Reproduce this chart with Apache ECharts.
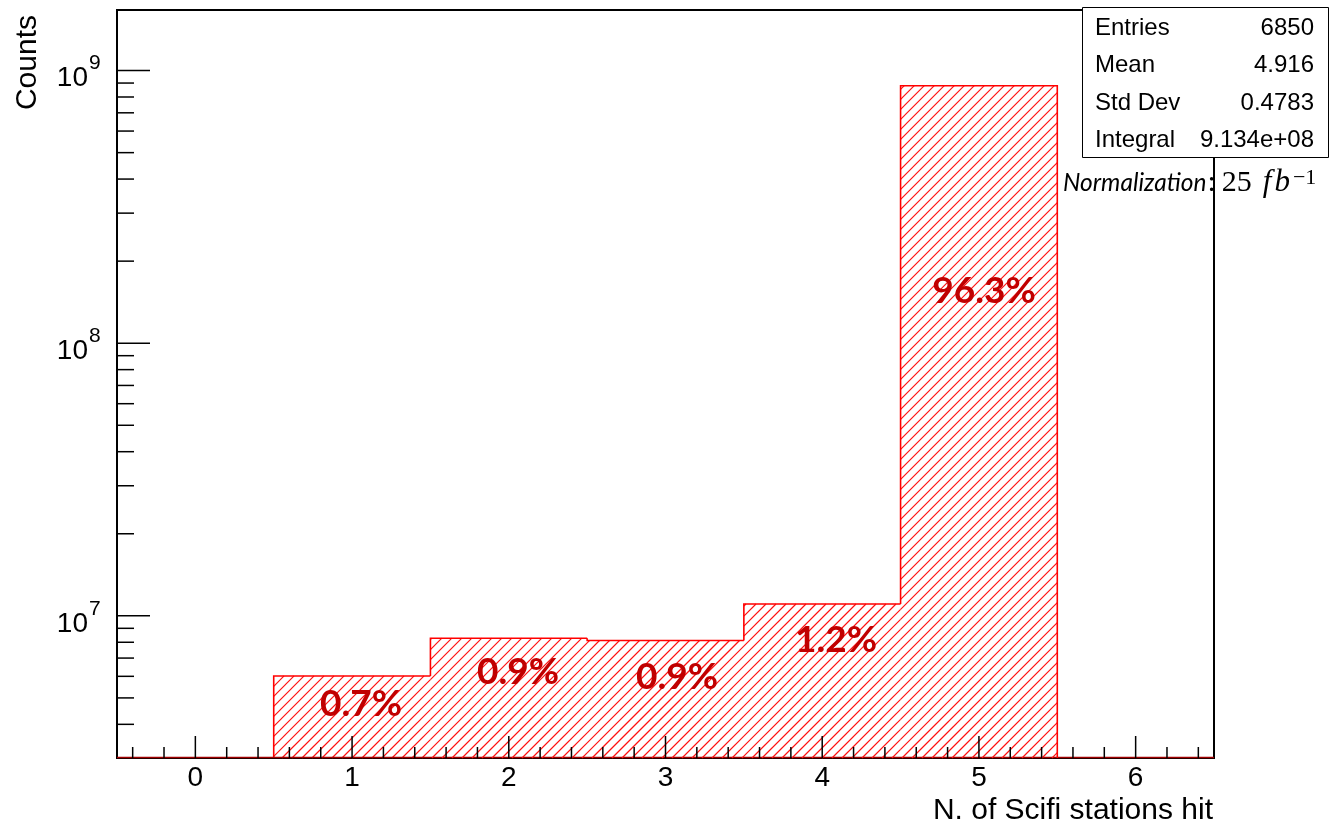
<!DOCTYPE html>
<html>
<head>
<meta charset="utf-8">
<script src="https://cdn.jsdelivr.net/npm/echarts@6/dist/echarts.min.js"></script>
<style>
  html, body { margin: 0; padding: 0; background: #fff; }
  #chart { width: 1337px; height: 828px; }
</style>
</head>
<body>
<div id="chart"></div>
<script>
// Histogram bins: number of SciFi stations hit
const binCenters = [1, 2, 3, 4, 5];
const binCounts = [6.02e6, 8.28e6, 8.12e6, 1.105e7, 8.80e8];
const percentLabels = ['0.7%', '0.9%', '0.9%', '1.2%', '96.3%'];
// Anchor of each percentage label, in axis units (x, counts)
const percentLabelX = [1.057, 2.059, 3.074, 4.088, 5.033];
const percentLabelY = [4.75e6, 6.23e6, 5.97e6, 8.16e6, 1.547e8];

const xTickValues = [0, 1, 2, 3, 4, 5, 6];
const xTickLabels = ['0', '1', '2', '3', '4', '5', '6'];
const yDecades = [7, 8, 9];

const statsNames = ['Entries', 'Mean', 'Std Dev', 'Integral'];
const statsValues = ['6850', '4.916', '0.4783', '9.134e+08'];

const xTitle = 'N. of Scifi stations hit';
const yTitle = 'Counts';

const X_MIN = -0.5, X_MAX = 6.5;
const Y_MIN = 3.01e6, Y_MAX = 1.668e9;

// Minor tick positions
const xMinorTicks = [];
for (let i = -4; i <= 64; i += 2) {
  if (i % 10 !== 0) xMinorTicks.push(i / 10);
}
const yMinorTicks = [];
[6, 7, 8].forEach(function (d) {
  for (let m = 2; m <= 9; m++) {
    const v = m * Math.pow(10, d);
    if (v > Y_MIN && v < Y_MAX) yMinorTicks.push(v);
  }
});

const RED = '#ff0000';
const LABEL_RED = '#c00000';
const AXIS_FONT = '"Liberation Sans", Arial, sans-serif';
const HATCH_STEP = 10;

// "/" hatch segments clipped to a pixel rectangle (lines x + y = k)
function hatchLines(x0, y0, x1, y1) {
  const out = [];
  const kStart = Math.ceil((x0 + y0) / HATCH_STEP) * HATCH_STEP;
  for (let k = kStart; k <= x1 + y1; k += HATCH_STEP) {
    const xa = Math.max(x0, k - y1);
    const xb = Math.min(x1, k - y0);
    if (xb - xa < 0.5) continue;
    out.push({
      type: 'line',
      shape: { x1: xa, y1: k - xa, x2: xb, y2: k - xb },
      style: { stroke: '#ff1010', lineWidth: 1.15, fill: null, opacity: 1 }
    });
  }
  return out;
}

function tickSeries(values, onX, len) {
  return {
    type: 'custom',
    coordinateSystem: 'cartesian2d',
    clip: false,
    silent: true,
    z: 5,
    data: values.map(function (v) { return onX ? [v, Y_MIN] : [X_MIN, v]; }),
    renderItem: function (params, api) {
      const cs = params.coordSys;
      const p = api.coord([api.value(0), api.value(1)]);
      let shape;
      if (onX) {
        const yb = cs.y + cs.height;
        shape = { x1: p[0], y1: yb, x2: p[0], y2: yb - len };
      } else {
        const xl = cs.x;
        shape = { x1: xl, y1: p[1], x2: xl + len, y2: p[1] };
      }
      return { type: 'line', shape: shape, style: { stroke: '#000', lineWidth: 1.5 } };
    }
  };
}

const chart = echarts.init(document.getElementById('chart'), null, { renderer: 'canvas' });

const option = {
  animation: false,
  backgroundColor: '#fff',
  grid: {
    left: 117, top: 10, width: 1097, height: 748,
    show: true, borderColor: '#000', borderWidth: 2, backgroundColor: 'transparent'
  },
  xAxis: {
    type: 'value', min: X_MIN, max: X_MAX,
    axisLine: { show: false },
    axisTick: { show: false },
    splitLine: { show: false },
    axisLabel: {
      customValues: xTickValues,
      formatter: function (v) { return xTickLabels[xTickValues.indexOf(v)]; },
      fontFamily: AXIS_FONT, fontSize: 28, color: '#000', margin: 6
    }
  },
  yAxis: {
    type: 'log', logBase: 10, min: Y_MIN, max: Y_MAX,
    axisLine: { show: false },
    axisTick: { show: false },
    splitLine: { show: false },
    axisLabel: { show: false }
  },
  series: [
    // Hatched bins with step outline
    {
      type: 'custom',
      coordinateSystem: 'cartesian2d',
      clip: false,
      z: 3,
      data: binCenters.map(function (c, i) { return [c, binCounts[i]]; }),
      renderItem: function (params, api) {
        const i = params.dataIndex;
        const cs = params.coordSys;
        const bottom = cs.y + cs.height;
        const c = api.value(0);
        const left = api.coord([c - 0.5, api.value(1)]);
        const right = api.coord([c + 0.5, api.value(1)]);
        const top = left[1];
        const prevTop = i > 0 ? api.coord([c, binCounts[i - 1]])[1] : bottom;
        const pts = [[left[0], prevTop], [left[0], top], [right[0], top]];
        if (i === binCenters.length - 1) pts.push([right[0], bottom]);
        const lp = api.coord([percentLabelX[i], percentLabelY[i]]);
        const children = hatchLines(left[0], top, right[0], bottom).concat([
          {
            type: 'polyline',
            shape: { points: pts },
            style: { stroke: RED, lineWidth: 1.6, fill: null }
          },
          {
            type: 'text',
            z2: 10,
            style: {
              x: lp[0], y: lp[1], text: percentLabels[i],
              fill: LABEL_RED, font: 'bold 37px Lato, "Open Sans", sans-serif',
              align: 'center', verticalAlign: 'middle'
            }
          }
        ]);
        if (i === 0) {
          const a = api.coord([X_MIN, Y_MIN]);
          const b = api.coord([X_MAX, Y_MIN]);
          children.push({
            type: 'line',
            shape: { x1: a[0], y1: bottom - 0.5, x2: b[0], y2: bottom - 0.5 },
            style: { stroke: '#a00000', lineWidth: 1.5 }
          });
        }
        return { type: 'group', children: children };
      }
    },
    tickSeries(xMinorTicks, true, 11),
    tickSeries(xTickValues, true, 22),
    tickSeries(yMinorTicks, false, 17),
    tickSeries(yDecades.map(function (d) { return Math.pow(10, d); }), false, 33),
    // Decade labels on the count axis
    {
      type: 'custom',
      coordinateSystem: 'cartesian2d',
      clip: false,
      silent: true,
      data: yDecades.map(function (d) { return [X_MIN, Math.pow(10, d), d]; }),
      renderItem: function (params, api) {
        const p = api.coord([api.value(0), api.value(1)]);
        return {
          type: 'group',
          children: [
            {
              type: 'text',
              style: {
                x: p[0] - 29, y: p[1] + 8, text: '10',
                font: '28px ' + AXIS_FONT, fill: '#000',
                align: 'right', verticalAlign: 'middle'
              }
            },
            {
              type: 'text',
              style: {
                x: p[0] - 28, y: p[1] - 7, text: String(api.value(2)),
                font: '21px ' + AXIS_FONT, fill: '#000',
                align: 'left', verticalAlign: 'middle'
              }
            }
          ]
        };
      }
    }
  ],
  graphic: [
    {
      type: 'text', x: 1213, y: 811, z: 50,
      style: { text: xTitle, font: '30px ' + AXIS_FONT, fill: '#000', align: 'right', verticalAlign: 'middle' }
    },
    {
      type: 'text', x: 28, y: 15, rotation: Math.PI / 2, z: 50,
      style: { text: yTitle, font: '30px ' + AXIS_FONT, fill: '#000', align: 'right', verticalAlign: 'middle' }
    },
    {
      type: 'rect', z: 100,
      shape: { x: 1082.5, y: 7.5, width: 246, height: 150 },
      style: { fill: '#fff', stroke: '#000', lineWidth: 1 }
    }
  ].concat(statsNames.map(function (name, i) {
    return {
      type: 'text', x: 1095, y: 28 + i * 37.5, z: 101,
      style: { text: name, font: '24px ' + AXIS_FONT, fill: '#000', align: 'left', verticalAlign: 'middle' }
    };
  })).concat(statsValues.map(function (val, i) {
    return {
      type: 'text', x: 1314, y: 28 + i * 37.5, z: 101,
      style: { text: val, font: '24px ' + AXIS_FONT, fill: '#000', align: 'right', verticalAlign: 'middle' }
    };
  })).concat([
    {
      type: 'text', x: 1063, y: 183, z: 101,
      style: {
        text: '{n|Normalization}{c|:}{m|25}{f|f}{b|b}{s|\u22121}',
        align: 'left', verticalAlign: 'middle',
        rich: {
          n: { fontFamily: 'Lato, sans-serif', fontStyle: 'italic', fontSize: 24.5, fill: '#000', lineHeight: 32, verticalAlign: 'middle' },
          c: { fontFamily: '"Liberation Serif", serif', fontSize: 30, fill: '#000', lineHeight: 32, verticalAlign: 'middle', padding: [0, 0, 0, 1] },
          m: { fontFamily: '"Liberation Serif", serif', fontSize: 30, fill: '#000', lineHeight: 32, verticalAlign: 'middle', padding: [0, 0, 0, 6] },
          f: { fontFamily: '"Liberation Serif", serif', fontStyle: 'italic', fontSize: 31, fill: '#000', lineHeight: 32, verticalAlign: 'middle', padding: [0, 3, 0, 11] },
          b: { fontFamily: '"Liberation Serif", serif', fontStyle: 'italic', fontSize: 31, fill: '#000', lineHeight: 32, verticalAlign: 'middle', padding: [0, 3, 0, 0] },
          s: { fontFamily: '"Liberation Serif", serif', fontSize: 22, fill: '#000', lineHeight: 22, verticalAlign: 'top' }
        }
      }
    }
  ])
};

chart.setOption(option);
</script>
</body>
</html>
